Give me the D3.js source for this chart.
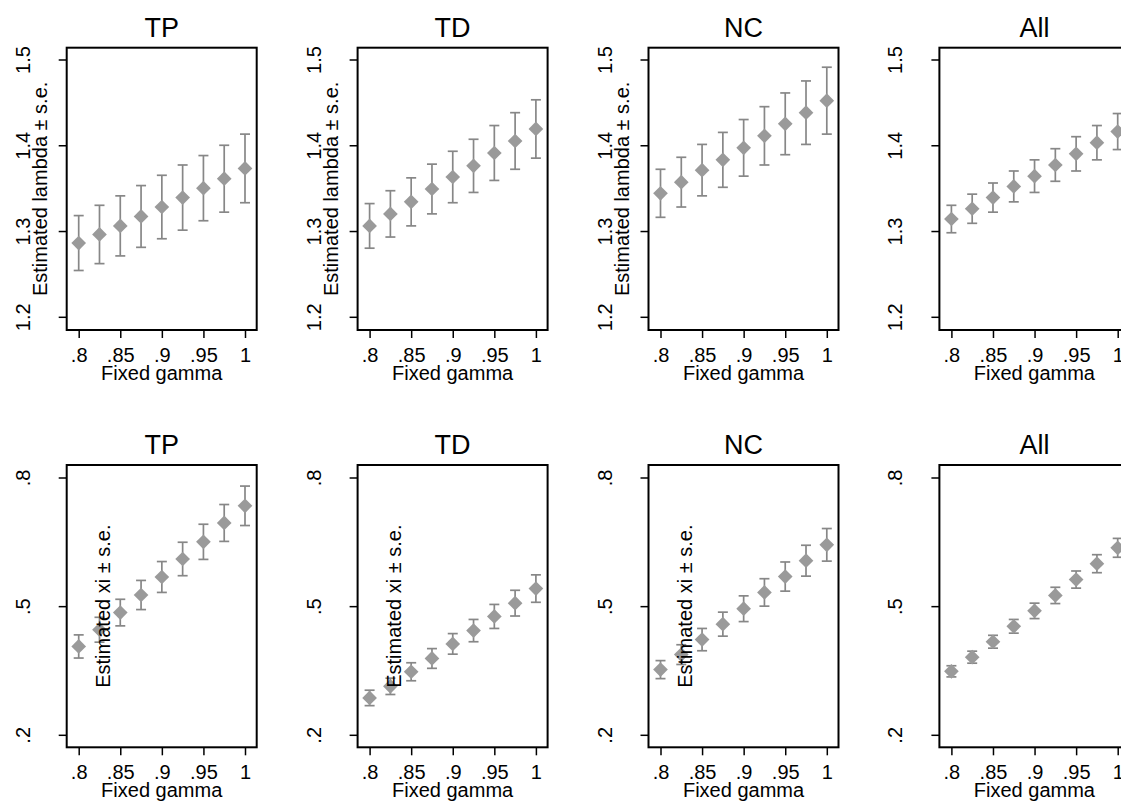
<!DOCTYPE html>
<html>
<head>
<meta charset="utf-8">
<script src="https://cdn.jsdelivr.net/npm/d3@7"></script>
<style>
  html, body { margin: 0; padding: 0; background: #fff; }
  svg { display: block; font-family: "Liberation Sans", Arial, Helvetica, sans-serif; }
</style>
</head>
<body>
<svg id="chart" width="1121" height="803"></svg>
<script>
// ---- Data ----
const groups = ["TP", "TD", "NC", "All"];
const gamma = [0.8, 0.825, 0.85, 0.875, 0.9, 0.925, 0.95, 0.975, 1.0];
const xTickValues = [0.8, 0.85, 0.9, 0.95, 1.0];
const xTickLabels = [".8", ".85", ".9", ".95", "1"];

// Estimated lambda (top row)
const lambdaTP = [1.286, 1.296, 1.306, 1.317, 1.328, 1.339, 1.350, 1.361, 1.373];
const lambdaTD = [1.306, 1.320, 1.334, 1.349, 1.363, 1.376, 1.391, 1.405, 1.419];
const lambdaNC = [1.344, 1.357, 1.371, 1.383, 1.397, 1.411, 1.425, 1.438, 1.452];
const lambdaAll = [1.314, 1.326, 1.339, 1.352, 1.364, 1.377, 1.390, 1.403, 1.416];
const lambdaSeTP = [0.032, 0.034, 0.035, 0.036, 0.037, 0.038, 0.038, 0.039, 0.040];
const lambdaSeTD = [0.026, 0.027, 0.028, 0.029, 0.030, 0.031, 0.032, 0.033, 0.034];
const lambdaSeNC = [0.028, 0.029, 0.030, 0.032, 0.033, 0.034, 0.036, 0.037, 0.039];
const lambdaSeAll = [0.016, 0.017, 0.017, 0.018, 0.019, 0.019, 0.020, 0.020, 0.021];
const lambdaTickValues = [1.2, 1.3, 1.4, 1.5];
const lambdaTickLabels = ["1.2", "1.3", "1.4", "1.5"];

// Estimated xi (bottom row)
const xiTP = [0.406, 0.445, 0.485, 0.526, 0.568, 0.610, 0.650, 0.694, 0.734];
const xiTD = [0.286, 0.313, 0.347, 0.378, 0.412, 0.443, 0.476, 0.507, 0.541];
const xiNC = [0.352, 0.387, 0.422, 0.458, 0.494, 0.532, 0.569, 0.606, 0.643];
const xiAll = [0.348, 0.381, 0.417, 0.453, 0.489, 0.525, 0.562, 0.599, 0.636];
const xiSeTP = [0.027, 0.029, 0.031, 0.034, 0.036, 0.039, 0.041, 0.043, 0.046];
const xiSeTD = [0.018, 0.019, 0.021, 0.023, 0.024, 0.026, 0.028, 0.030, 0.032];
const xiSeNC = [0.021, 0.023, 0.026, 0.028, 0.030, 0.032, 0.034, 0.036, 0.038];
const xiSeAll = [0.013, 0.014, 0.015, 0.016, 0.018, 0.019, 0.020, 0.021, 0.022];
const xiTickValues = [0.2, 0.5, 0.8];
const xiTickLabels = [".2", ".5", ".8"];

const xTitle = "Fixed gamma";
const lambdaTitle = "Estimated lambda \u00b1 s.e.";
const xiTitle = "Estimated xi \u00b1 s.e.";

// ---- Layout ----
const svg = d3.select("#chart");
const cellW = 290.9;
const frameLeft0 = 66.7;
const frameW = 190;
const frameH = 282.3;

const rows = [
  {
    top: 47.7, domain: [1.2, 1.5], tickValues: lambdaTickValues, tickLabels: lambdaTickLabels,
    values: [lambdaTP, lambdaTD, lambdaNC, lambdaAll], se: [lambdaSeTP, lambdaSeTD, lambdaSeNC, lambdaSeAll],
    title: lambdaTitle, titleX: -20, padTop: 11.8, padBottom: 13.2
  },
  {
    top: 465, domain: [0.2, 0.8], tickValues: xiTickValues, tickLabels: xiTickLabels,
    values: [xiTP, xiTD, xiNC, xiAll], se: [xiSeTP, xiSeTD, xiSeNC, xiSeAll],
    title: xiTitle, titleX: 43.5, padTop: 12.5, padBottom: 12.5
  }
];

const markerColor = "#9a9a9a";
const barColor = "#878787";
const diamond = d3.symbol().type(d3.symbolSquare).size(108);

rows.forEach(row => {
  groups.forEach((g, gi) => {
    const left = frameLeft0 + gi * cellW;
    const top = row.top;
    const bottom = top + frameH;

    const x = d3.scaleLinear().domain([0.8, 1.0]).range([left + 12, left + 178.3]);
    const y = d3.scaleLinear().domain(row.domain).range([bottom - row.padBottom, top + row.padTop]);

    const panel = svg.append("g");

    // title
    panel.append("text")
      .attr("x", left + frameW / 2)
      .attr("y", top - 11)
      .attr("text-anchor", "middle")
      .attr("font-size", 27)
      .attr("fill", "#000")
      .text(g);

    // x axis
    const xAxis = d3.axisBottom(x)
      .tickValues(xTickValues)
      .tickFormat((d, i) => xTickLabels[i])
      .tickSize(8)
      .tickSizeOuter(0);
    const gx = panel.append("g")
      .attr("transform", `translate(0,${bottom})`)
      .call(xAxis);
    gx.select(".domain").remove();
    gx.selectAll(".tick line").attr("stroke", "#000").attr("stroke-width", 1.5);
    gx.selectAll(".tick text")
      .attr("y", 32).attr("dy", null)
      .attr("font-size", 20)
      .attr("font-family", "Liberation Sans, Arial, sans-serif")
      .attr("fill", "#000");

    // y axis
    const yAxis = d3.axisLeft(y)
      .tickValues(row.tickValues)
      .tickFormat((d, i) => row.tickLabels[i])
      .tickSize(8)
      .tickSizeOuter(0);
    const gy = panel.append("g")
      .attr("transform", `translate(${left},0)`)
      .call(yAxis);
    gy.select(".domain").remove();
    gy.selectAll(".tick line").attr("stroke", "#000").attr("stroke-width", 1.5);
    gy.selectAll(".tick text")
      .attr("x", null).attr("dy", null)
      .attr("transform", "translate(-37,0) rotate(-90)")
      .attr("text-anchor", "middle")
      .attr("font-size", 20)
      .attr("font-family", "Liberation Sans, Arial, sans-serif")
      .attr("fill", "#000");

    // x title
    panel.append("text")
      .attr("x", left + frameW / 2)
      .attr("y", bottom + 50)
      .attr("text-anchor", "middle")
      .attr("font-size", 20)
      .attr("fill", "#000")
      .text(xTitle);

    // data
    const data = gamma.map((gm, i) => ({ g: gm, v: row.values[gi][i], se: row.se[gi][i] }));

    const bars = panel.append("g");
    bars.selectAll("line.bar").data(data).join("line")
      .attr("class", "bar")
      .attr("x1", d => x(d.g)).attr("x2", d => x(d.g))
      .attr("y1", d => y(d.v - d.se)).attr("y2", d => y(d.v + d.se))
      .attr("stroke", barColor).attr("stroke-width", 1.7);
    bars.selectAll("line.capTop").data(data).join("line")
      .attr("class", "capTop")
      .attr("x1", d => x(d.g) - 5).attr("x2", d => x(d.g) + 5)
      .attr("y1", d => y(d.v + d.se)).attr("y2", d => y(d.v + d.se))
      .attr("stroke", barColor).attr("stroke-width", 1.7);
    bars.selectAll("line.capBot").data(data).join("line")
      .attr("class", "capBot")
      .attr("x1", d => x(d.g) - 5).attr("x2", d => x(d.g) + 5)
      .attr("y1", d => y(d.v - d.se)).attr("y2", d => y(d.v - d.se))
      .attr("stroke", barColor).attr("stroke-width", 1.7);

    panel.append("g").selectAll("path").data(data).join("path")
      .attr("d", diamond)
      .attr("transform", d => `translate(${x(d.g)},${y(d.v)}) rotate(45)`)
      .attr("fill", markerColor);

    // frame
    panel.append("rect")
      .attr("x", left).attr("y", top)
      .attr("width", frameW).attr("height", frameH)
      .attr("fill", "none").attr("stroke", "#000").attr("stroke-width", 2);

    // y title (not on the "All" panels)
    if (g !== "All") {
      const tx = left + row.titleX;
      const ty = top + frameH / 2;
      panel.append("text")
        .attr("transform", `translate(${tx},${ty}) rotate(-90)`)
        .attr("text-anchor", "middle")
        .attr("font-size", 20)
        .attr("fill", "#000")
        .text(row.title);
    }
  });
});
</script>
</body>
</html>
